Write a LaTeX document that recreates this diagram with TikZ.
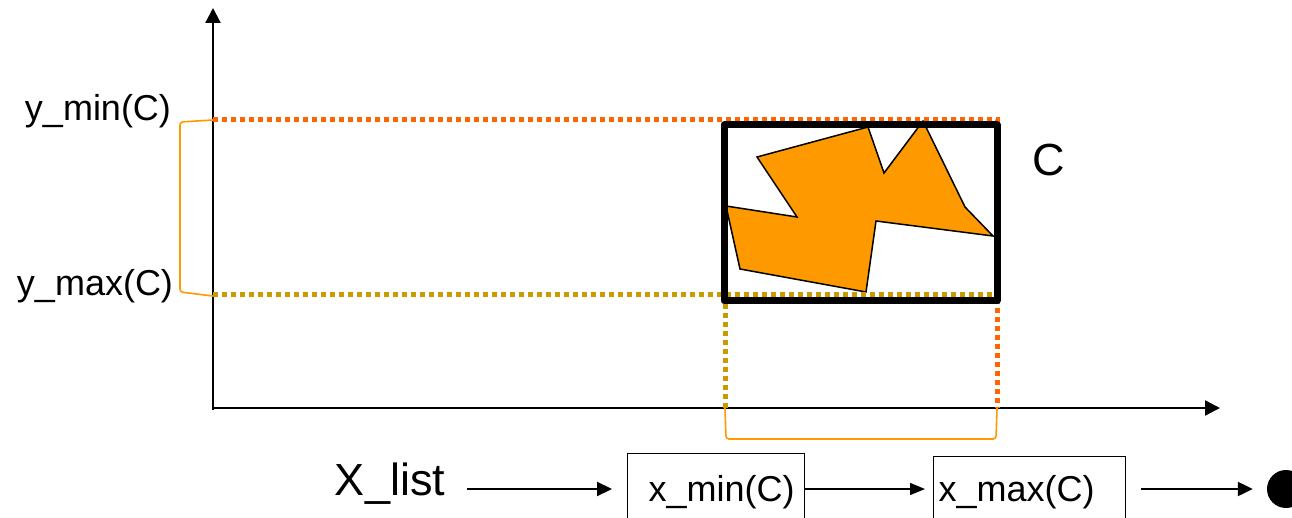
\documentclass[tikz,border=0pt]{standalone}
\usepackage{fontspec}
\setmainfont{Liberation Sans}
\usetikzlibrary{arrows.meta}
\definecolor{redor}{HTML}{FF6600}
\definecolor{gold}{HTML}{CC9900}
\definecolor{orfill}{HTML}{FF9900}
\begin{document}
\begin{tikzpicture}[x=1pt,y=-1pt,
  axis/.style={line width=2.2pt,-{Triangle[length=15pt,width=15pt]}},
  listarrow/.style={line width=2.2pt,-{Triangle[length=15pt,width=14pt]}},
  thinarrow/.style={line width=1.4pt,-{Triangle[length=15pt,width=12pt]}},
  dots/.style={line width=5pt,dash pattern=on 5pt off 4pt},
  bracket/.style={draw=orfill,line width=1.6pt,rounded corners=3pt},
  lbl/.style={font=\fontsize{36}{40}\selectfont,inner sep=0pt,anchor=base},
  bigl/.style={font=\fontsize{45}{50}\selectfont,inner sep=0pt,anchor=base},
  listbox/.style={draw,line width=1.4pt,anchor=north west,inner sep=0pt,align=left,font=\fontsize{36}{40}\selectfont}
]
\useasboundingbox (0,0) rectangle (1292,518);
\clip (0,0) rectangle (1292,518);

% axes
\draw[axis] (213,410) -- (213,8);
\draw[axis] (212,408) -- (1220,408);

% brackets
\draw[bracket] (213,120) -- (180,122) -- (180,292) -- (213,296);
\draw[bracket] (725,408) -- (726,439) -- (996,439) -- (997,408);

% shape
\filldraw[fill=orfill,draw=black,line width=1.5pt,line join=miter]
  (757,157) -- (868,127) -- (884,173) -- (923,121) -- (965,207) -- (993,236)
  -- (876,221) -- (866,292) -- (740,269) -- (726,206) -- (797,217) -- cycle;

% dotted projections
\draw[dots,redor] (213,120) -- (997,120) -- (997,408);
\draw[dots,gold] (213,295) -- (995,295);
\draw[dots,gold] (725,295) -- (725,408);

% bounding rectangle
\draw[line width=7pt,line join=round] (724,125) rectangle (997,301);

% labels
\node[lbl] (ymin) at (98,121) {y\_min(C)};
\node[lbl] (ymax) at (95,296) {y\_max(C)};
\node[bigl] (clabel) at (1049,176) {C};

% list
\coordinate (lane) at (0,489);
\node[bigl] (xlist) at (390,495) {X\_list};
\node[listbox,text width=177pt,text height=48pt,text depth=40pt] (xmin) at (627,453) {\hspace*{21pt}x\_min(C)};
\node[listbox,text width=192pt,text height=45pt,text depth=40pt] (xmax) at (933,456) {\hspace*{5pt}x\_max(C)};
\node[circle,fill=black,minimum size=38pt,inner sep=0pt] (end) at (1286,489) {};

\coordinate (a1) at ([xshift=22pt]xlist.east);
\coordinate (a2) at ([xshift=-15pt]xmin.west);
\coordinate (b2) at ([xshift=-8pt]xmax.west);
\coordinate (c1) at ([xshift=15pt]xmax.east);
\coordinate (c2) at ([xshift=-14pt]end.west);

\draw[listarrow] (a1 |- lane) -- (a2 |- lane);
\draw[thinarrow] (xmin.east |- lane) -- (b2 |- lane);
\draw[listarrow] (c1 |- lane) -- (c2 |- lane);
\end{tikzpicture}
\end{document}
